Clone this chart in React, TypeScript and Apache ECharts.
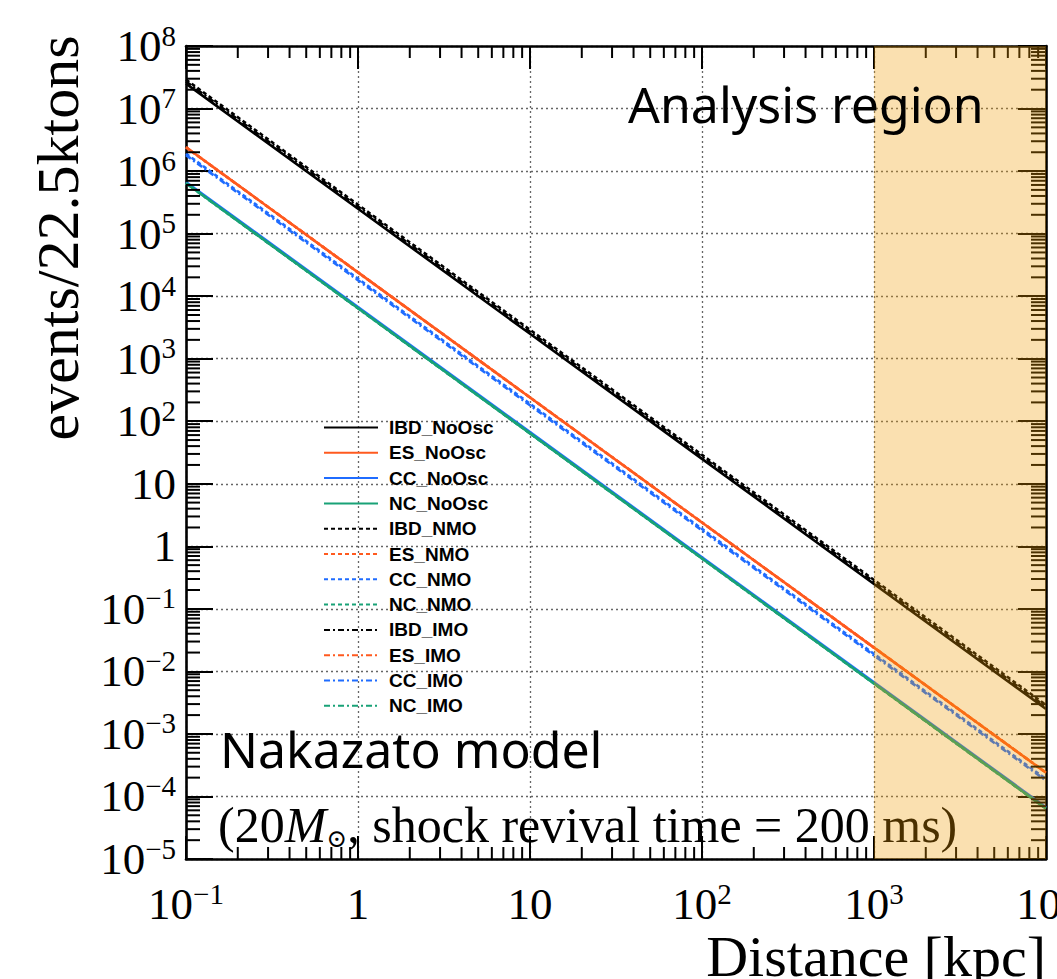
import React, { useEffect, useRef } from 'react';
import * as echarts from 'echarts';

const distances = [0.1, 1, 10, 100, 1000, 10000];

// events / 22.5 ktons
const IBD_NoOsc = [2.5e7, 2.5e5, 2.5e3, 25, 0.25, 2.5e-3];
const ES_NoOsc = [2.4e6, 2.4e4, 240, 2.4, 2.4e-2, 2.4e-4];
const CC_NoOsc = [6.7e5, 6.7e3, 67, 0.67, 6.7e-3, 6.7e-5];
const NC_NoOsc = [6.4e5, 6.4e3, 64, 0.64, 6.4e-3, 6.4e-5];
const IBD_NMO = [2.9e7, 2.9e5, 2.9e3, 29, 0.29, 2.9e-3];
const ES_NMO = [2.4e6, 2.4e4, 240, 2.4, 2.4e-2, 2.4e-4];
const CC_NMO = [1.9e6, 1.9e4, 190, 1.9, 1.9e-2, 1.9e-4];
const NC_NMO = [6.4e5, 6.4e3, 64, 0.64, 6.4e-3, 6.4e-5];
const IBD_IMO = [2.7e7, 2.7e5, 2.7e3, 27, 0.27, 2.7e-3];
const ES_IMO = [2.4e6, 2.4e4, 240, 2.4, 2.4e-2, 2.4e-4];
const CC_IMO = [1.8e6, 1.8e4, 180, 1.8, 1.8e-2, 1.8e-4];
const NC_IMO = [6.4e5, 6.4e3, 64, 0.64, 6.4e-3, 6.4e-5];

const legendNames = [
  'IBD_NoOsc', 'ES_NoOsc', 'CC_NoOsc', 'NC_NoOsc',
  'IBD_NMO', 'ES_NMO', 'CC_NMO', 'NC_NMO',
  'IBD_IMO', 'ES_IMO', 'CC_IMO', 'NC_IMO',
];

const xRange = [0.1, 10000];
const yRange = [1e-5, 1e8];
const analysisRegion = [1000, 10000];

const xDecades = [0.1, 1, 10, 100, 1000];
const yDecades = [1e-5, 1e-4, 1e-3, 1e-2, 1e-1, 1, 10, 100, 1e3, 1e4, 1e5, 1e6, 1e7];
const minorMultipliers = [2, 3, 4, 5, 6, 7, 8, 9];

const COLORS = { IBD: '#000000', ES: '#ff5a1f', CC: '#1f6cff', NC: '#19a277' };
const DOT = [4, 3];
const DASHDOT = [6, 3, 2, 3];

const SERIF = '"Liberation Serif", "Times New Roman", serif';

function fmtLog(v: number) {
  const k = Math.round(Math.log10(v));
  if (k === 0) return '{b|1}';
  if (k === 1) return '{b|10}';
  return '{b|10}{s|' + (k < 0 ? '\u2212' : '') + Math.abs(k) + '}';
}

const richLabel = {
  b: { fontSize: 45, fontFamily: SERIF, color: '#000', lineHeight: 50 },
  s: { fontSize: 29, fontFamily: SERIF, color: '#000', lineHeight: 29, verticalAlign: 'top' },
};

export default function App() {
  const ref = useRef<HTMLDivElement>(null);
  useEffect(() => {
    if (!ref.current) return;
    const chart = echarts.init(ref.current, null, { renderer: 'svg' });

    const xMinor: number[][] = [];
    xDecades.forEach((d) => minorMultipliers.forEach((m) => xMinor.push([d * m, 1])));
    const yMinor: number[][] = [];
    yDecades.forEach((d) => minorMultipliers.forEach((m) => yMinor.push([1, d * m])));

    const mk = (name: string, vals: number[], color: string, type: any) => ({
      name,
      type: 'line',
      data: distances.map((d, i) => [d, vals[i]]),
      symbol: 'none',
      showSymbol: false,
      lineStyle: { color, width: 2.6, type },
      itemStyle: { color, opacity: 0 },
      z: 2,
    });

    const baseAxis = {
      type: 'log',
      logBase: 10,
      interval: 1,
      axisLine: { show: true, onZero: false, lineStyle: { color: '#000', width: 2.6 } },
      minorTick: { show: false },
      minorSplitLine: { show: false },
    };

    const option: any = {
      animation: false,
      backgroundColor: '#ffffff',
      grid: { left: 186, top: 46, width: 860, height: 813, containLabel: false, outerBoundsMode: 'none' },
      xAxis: [
        {
          ...baseAxis,
          min: xRange[0],
          max: xRange[1],
          position: 'bottom',
          axisTick: { show: true, inside: true, length: 23, lineStyle: { color: '#000', width: 2 } },
          axisLabel: { show: true, margin: 20, formatter: fmtLog, rich: richLabel, showMinLabel: true, showMaxLabel: true, hideOverlap: false },
          splitLine: { show: true, lineStyle: { color: '#666', width: 1.3, type: [2, 3] } },
        },
        {
          ...baseAxis,
          min: xRange[0],
          max: xRange[1],
          position: 'top',
          axisTick: { show: true, inside: true, length: 23, lineStyle: { color: '#000', width: 2 } },
          axisLabel: { show: false },
          splitLine: { show: false },
        },
      ],
      yAxis: [
        {
          ...baseAxis,
          min: yRange[0],
          max: yRange[1],
          position: 'left',
          axisTick: { show: true, inside: true, length: 27, lineStyle: { color: '#000', width: 2 } },
          axisLabel: { show: true, margin: 10, formatter: fmtLog, rich: richLabel, showMinLabel: true, showMaxLabel: true, hideOverlap: false },
          splitLine: { show: true, lineStyle: { color: '#666', width: 1.3, type: [2, 3] } },
        },
        {
          ...baseAxis,
          min: yRange[0],
          max: yRange[1],
          position: 'right',
          axisTick: { show: true, inside: true, length: 28, lineStyle: { color: '#000', width: 2 } },
          axisLabel: { show: false },
          splitLine: { show: false },
        },
      ],
      legend: {
        orient: 'vertical',
        left: 318,
        top: 413,
        itemWidth: 54,
        itemHeight: 20,
        itemGap: 6.3,
        data: legendNames,
        selectedMode: false,
        itemStyle: { opacity: 0 },
        textStyle: {
          fontFamily: '"Liberation Sans", Arial, sans-serif',
          fontWeight: 'bold',
          fontSize: 19,
          color: '#000',
          padding: [0, 0, 0, 6],
        },
      },
      series: [
        mk('IBD_NMO', IBD_NMO, COLORS.IBD, DOT),
        mk('IBD_IMO', IBD_IMO, COLORS.IBD, DASHDOT),
        mk('IBD_NoOsc', IBD_NoOsc, COLORS.IBD, 'solid'),
        mk('CC_NMO', CC_NMO, COLORS.CC, DOT),
        mk('CC_IMO', CC_IMO, COLORS.CC, DASHDOT),
        mk('ES_NoOsc', ES_NoOsc, COLORS.ES, 'solid'),
        mk('ES_NMO', ES_NMO, COLORS.ES, DOT),
        mk('ES_IMO', ES_IMO, COLORS.ES, DASHDOT),
        mk('CC_NoOsc', CC_NoOsc, COLORS.CC, 'solid'),
        mk('NC_NoOsc', NC_NoOsc, COLORS.NC, 'solid'),
        mk('NC_NMO', NC_NMO, COLORS.NC, DOT),
        mk('NC_IMO', NC_IMO, COLORS.NC, DASHDOT),
        {
          name: 'xMinorTicks',
          type: 'custom',
          silent: true,
          z: 3,
          data: xMinor,
          renderItem: (params: any, api: any) => {
            const cs = params.coordSys;
            const px = api.coord([api.value(0), 1])[0];
            const b = cs.y + cs.height;
            const t = cs.y;
            return {
              type: 'group',
              children: [
                { type: 'line', shape: { x1: px, y1: b, x2: px, y2: b - 12 }, style: { stroke: '#000', lineWidth: 2 } },
                { type: 'line', shape: { x1: px, y1: t, x2: px, y2: t + 12 }, style: { stroke: '#000', lineWidth: 2 } },
              ],
            };
          },
        },
        {
          name: 'yMinorTicks',
          type: 'custom',
          silent: true,
          z: 3,
          data: yMinor,
          renderItem: (params: any, api: any) => {
            const cs = params.coordSys;
            const py = api.coord([1, api.value(1)])[1];
            const l = cs.x;
            const r = cs.x + cs.width;
            return {
              type: 'group',
              children: [
                { type: 'line', shape: { x1: l, y1: py, x2: l + 14, y2: py }, style: { stroke: '#000', lineWidth: 2 } },
                { type: 'line', shape: { x1: r, y1: py, x2: r - 15, y2: py }, style: { stroke: '#000', lineWidth: 2 } },
              ],
            };
          },
        },
        {
          name: 'analysisRegion',
          type: 'custom',
          silent: true,
          z: 10,
          data: [[analysisRegion[0], 1, analysisRegion[1]]],
          renderItem: (params: any, api: any) => {
            const cs = params.coordSys;
            const x0 = api.coord([api.value(0), 1])[0];
            const x1 = api.coord([api.value(2), 1])[0];
            return {
              type: 'rect',
              shape: { x: x0, y: cs.y, width: x1 - x0, height: cs.height },
              style: { fill: 'rgba(239,155,0,0.31)' },
            };
          },
        },
      ],
      graphic: [
        {
          type: 'text',
          x: 58,
          y: 238,
          rotation: Math.PI / 2,
          style: { text: 'events/22.5ktons', fontSize: 60, fontFamily: SERIF, fill: '#000', align: 'center', verticalAlign: 'middle' },
        },
        {
          type: 'text',
          x: 1046,
          y: 956,
          style: { text: 'Distance [kpc]', fontSize: 58, fontFamily: SERIF, fill: '#000', align: 'right', verticalAlign: 'middle' },
        },
        {
          type: 'text',
          x: 628,
          y: 104,
          z: 100,
          style: { text: 'Analysis region', fontSize: 50, fontFamily: '"Noto Sans", sans-serif', fill: '#000', align: 'left', verticalAlign: 'middle' },
        },
        {
          type: 'text',
          x: 220,
          y: 749,
          z: 5,
          style: { text: 'Nakazato model', fontSize: 50, fontFamily: '"Noto Sans", sans-serif', fill: '#000', align: 'left', verticalAlign: 'middle' },
        },
        {
          type: 'text',
          x: 218,
          y: 825,
          z: 5,
          style: {
            text: '{n|(20}{i|M}{o|\u2299}{n|, shock revival time = 200 ms)}',
            align: 'left',
            verticalAlign: 'middle',
            rich: {
              n: { fontSize: 50, fontFamily: SERIF, color: '#000', lineHeight: 52 },
              i: { fontSize: 50, fontFamily: SERIF, fontStyle: 'italic', color: '#000', lineHeight: 52 },
              o: { fontSize: 25, fontFamily: '"DejaVu Serif", serif', color: '#000', lineHeight: 25, verticalAlign: 'bottom', padding: [36, 0, 0, 0] },
            },
          },
        },
      ],
    };

    chart.setOption(option);
    return () => chart.dispose();
  }, []);

  return (
    <div
      ref={ref}
      style={{ position: 'absolute', left: 0, top: 0, width: 1057, height: 979, background: '#fff' }}
    />
  );
}
